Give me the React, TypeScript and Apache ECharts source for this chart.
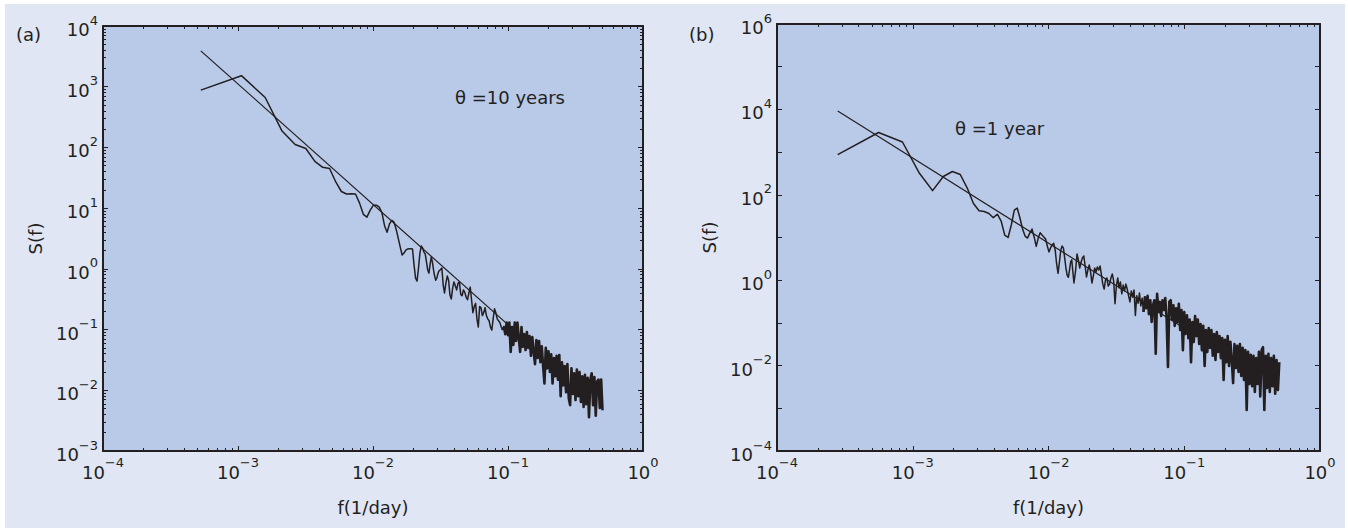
import React, { useEffect, useRef } from 'react';
import * as echarts from 'echarts';

// ---------------- data ----------------
// panel (a), theta = 10 years : low-frequency harmonics (df ~ 5.3e-4 1/day)
const FREQ_A_LOW = [
  0.00053, 0.00106, 0.00159, 0.00212, 0.00265, 0.00318, 0.00371, 0.00424, 0.00477, 0.0053,
  0.00583, 0.00636, 0.00689, 0.00742, 0.00795, 0.00848, 0.00901, 0.00954, 0.01007, 0.0106,
  0.01113, 0.01166, 0.01219, 0.01272, 0.01325, 0.01378, 0.01431, 0.01484, 0.01537, 0.0159,
  0.01643, 0.01696, 0.01749, 0.01802, 0.01855, 0.01908, 0.01961, 0.02014, 0.02067, 0.0212,
  0.02173, 0.02226, 0.02279, 0.02332, 0.02385, 0.02438, 0.02491, 0.02544, 0.02597, 0.0265,
  0.02703, 0.02756, 0.02809, 0.02862, 0.02915, 0.02968, 0.03021, 0.03074, 0.03127,
];
const S_A_LOW = [
  880, 1520, 664, 186, 112, 96, 59, 47, 45, 27,
  18.8, 17.1, 17.2, 17.1, 12.1, 7.9, 7.1, 9.3, 11.2, 11.2,
  10.4, 8.3, 5.1, 4.0, 5.5, 6.3, 5.9, 4.5, 3.2, 2.3,
  1.69, 1.82, 2.04, 2.12, 2.15, 2.15, 2.12, 1.16, 0.7, 0.63,
  1.03, 1.82, 2.38, 2.2, 1.89, 1.75, 1.29, 0.95, 0.85, 1.2,
  1.56, 1.29, 0.95, 0.76, 0.65, 0.7, 0.82, 0.92, 0.95,
];

// panel (b), theta = 1 year : low-frequency harmonics (df ~ 2.8e-4 1/day)
const FREQ_B_LOW = [
  0.00028, 0.00056, 0.00084, 0.00112, 0.0014, 0.00168, 0.00196, 0.00224, 0.00252, 0.0028,
  0.00308, 0.00336, 0.00364, 0.00392, 0.0042, 0.00448, 0.00476, 0.00504, 0.00532, 0.0056,
  0.00588, 0.00616, 0.00644, 0.00672, 0.007, 0.00728, 0.00756, 0.00784, 0.00812, 0.0084,
  0.00868, 0.00896, 0.00924, 0.00952, 0.0098, 0.01008, 0.01036, 0.01064, 0.01092, 0.0112,
  0.01148, 0.01176, 0.01204, 0.01232, 0.0126, 0.01288, 0.01316, 0.01344, 0.01372, 0.014,
  0.01428, 0.01456, 0.01484, 0.01512, 0.0154,
];
const S_B_LOW = [
  870, 2880, 1725, 319, 125, 268, 351, 299, 144, 62.5,
  42.4, 40.6, 36.5, 29.1, 35.1, 24.3, 11.4, 10, 19.6, 44,
  49, 28.6, 15.8, 10.8, 9.7, 12.7, 15.8, 10.3, 6.2, 9.7,
  12.9, 11.4, 10.3, 9.2, 6.3, 4.6, 5.7, 6.7, 7.3, 5.1,
  2.4, 1.45, 2.7, 5.1, 6.3, 5.7, 3.3, 1.93, 1.32, 1.17,
  1.73, 2.7, 3.0, 1.56, 0.86,
];

// high-frequency (dense) part, frequencies shared by both panels
const FREQ_DENSE = [
  0.01585, 0.01622, 0.0166, 0.01698, 0.01738, 0.01778, 0.0182, 0.01862, 0.01905, 0.0195,
  0.01995, 0.02042, 0.02089, 0.02138, 0.02188, 0.02239, 0.02291, 0.02344, 0.02399, 0.02455,
  0.02512, 0.0257, 0.0263, 0.02692, 0.02754, 0.02818, 0.02884, 0.02951, 0.0302, 0.0309,
  0.03162, 0.03236, 0.03311, 0.03388, 0.03467, 0.03548, 0.03631, 0.03715, 0.03802, 0.0389,
  0.03981, 0.04074, 0.04169, 0.04266, 0.04365, 0.04467, 0.04571, 0.04677, 0.04786, 0.04898,
  0.05012, 0.05129, 0.05248, 0.0537, 0.05495, 0.05623, 0.05754, 0.05888, 0.06026, 0.06166,
  0.0631, 0.06457, 0.06607, 0.06761, 0.06918, 0.07079, 0.07244, 0.07413, 0.07586, 0.07762,
  0.07943, 0.08128, 0.08318, 0.08511, 0.0871, 0.08913, 0.0912, 0.09333, 0.0955, 0.09772,
  0.1, 0.1023, 0.1047, 0.1072, 0.1096, 0.1122, 0.1148, 0.1175, 0.1202, 0.123,
  0.1259, 0.1288, 0.1318, 0.1349, 0.138, 0.1413, 0.1445, 0.1479, 0.1514, 0.1549,
  0.1585, 0.1622, 0.166, 0.1698, 0.1738, 0.1778, 0.182, 0.1862, 0.1905, 0.195,
  0.1995, 0.2042, 0.2089, 0.2138, 0.2188, 0.2239, 0.2291, 0.2344, 0.2399, 0.2455,
  0.2512, 0.257, 0.263, 0.2692, 0.2754, 0.2818, 0.2884, 0.2951, 0.302, 0.309,
  0.3162, 0.3236, 0.3311, 0.3388, 0.3467, 0.3548, 0.3631, 0.3715, 0.3802, 0.389,
  0.3981, 0.4074, 0.4169, 0.4266, 0.4365, 0.4467, 0.4571, 0.4677, 0.4786, 0.4898,
  0.5012,
];
// panel (a) dense values, on the last 121 dense frequencies
const S_A_DENSE = [
  0.95, 1.03, 0.54, 0.4, 0.58, 0.76, 0.65, 0.37, 0.32, 0.48,
  0.61, 0.52, 0.45, 0.58, 0.61, 0.38, 0.36, 0.45, 0.41, 0.34,
  0.31, 0.4, 0.5, 0.31, 0.19, 0.24, 0.27, 0.15, 0.11, 0.24,
  0.23, 0.17, 0.19, 0.23, 0.17, 0.15, 0.14, 0.11, 0.098, 0.15,
  0.22, 0.19, 0.15, 0.14, 0.13, 0.11, 0.098, 0.11, 0.084, 0.13,
  0.081, 0.13, 0.043, 0.11, 0.056, 0.13, 0.065, 0.13, 0.072, 0.043,
  0.11, 0.052, 0.084, 0.046, 0.091, 0.05, 0.078, 0.037, 0.075, 0.043,
  0.027, 0.067, 0.034, 0.065, 0.029, 0.053, 0.025, 0.013, 0.05, 0.023,
  0.044, 0.02, 0.039, 0.013, 0.034, 0.017, 0.037, 0.015, 0.038, 0.008,
  0.029, 0.012, 0.025, 0.0093, 0.027, 0.0074, 0.0057, 0.023, 0.0087, 0.019,
  0.0069, 0.022, 0.008, 0.02, 0.0064, 0.017, 0.0053, 0.018, 0.0059, 0.016,
  0.0036, 0.015, 0.019, 0.0057, 0.0165, 0.0038, 0.014, 0.015, 0.0051, 0.015, 0.0047,
];
// panel (b) dense values, on all 151 dense frequencies
const S_B_DENSE = [
  1.73, 4.1, 2.97, 1.93, 2.67, 3.31, 3.69, 2.15, 1.19, 1.73,
  2.27, 1.56, 0.86, 1.25, 1.93, 1.56, 2.04, 1.73, 2.15, 1.32,
  0.81, 0.62, 1.01, 1.13, 0.73, 0.81, 1.13, 1.4, 0.96, 0.28,
  0.73, 1.13, 0.66, 0.91, 0.48, 0.77, 0.56, 0.81, 0.62, 0.43,
  0.31, 0.56, 0.4, 0.59, 0.15, 0.43, 0.29, 0.5, 0.25, 0.38,
  0.18, 0.4, 0.22, 0.43, 0.16, 0.34, 0.105, 0.26, 0.34, 0.019,
  0.48, 0.18, 0.31, 0.145, 0.34, 0.2, 0.38, 0.13, 0.0093, 0.31,
  0.34, 0.12, 0.26, 0.085, 0.22, 0.105, 0.28, 0.068, 0.2, 0.023,
  0.18, 0.055, 0.15, 0.044, 0.12, 0.012, 0.105, 0.036, 0.145, 0.049,
  0.12, 0.032, 0.094, 0.023, 0.085, 0.0098, 0.068, 0.021, 0.076, 0.026,
  0.068, 0.017, 0.055, 0.0135, 0.061, 0.021, 0.049, 0.015, 0.044, 0.0046,
  0.04, 0.012, 0.049, 0.0098, 0.036, 0.0135, 0.0039, 0.032, 0.0088, 0.029,
  0.0071, 0.032, 0.0057, 0.026, 0.0046, 0.023, 0.00091, 0.021, 0.0037, 0.018,
  0.0033, 0.017, 0.0024, 0.015, 0.0037, 0.021, 0.0019, 0.023, 0.027, 0.00091,
  0.017, 0.003, 0.019, 0.0024, 0.015, 0.0033, 0.017, 0.0022, 0.0135, 0.0027, 0.012,
];

// fitted power laws (end points)
const FIT_A_F = [0.00053, 0.107];
const FIT_A_S = [3900, 0.105];
const FIT_B_F = [0.00028, 0.1];
const FIT_B_S = [9200, 0.075];

// axes
const X_TICK_EXP = [-4, -3, -2, -1, 0];
const A_Y_TICK_EXP = [-3, -2, -1, 0, 1, 2, 3, 4];
const B_Y_TICK_EXP = [-4, -3, -2, -1, 0, 1, 2, 3, 4, 5, 6];
const B_Y_LABEL_EXP = [-4, -2, 0, 2, 4, 6];
const MINOR_STEPS = [2, 3, 4, 5, 6, 7, 8, 9];

// frequency above which the spectrum is a dense band (drawn heavier)
const BAND_FROM_A = 0.09;
const BAND_FROM_B = 0.05;

const TEXT_A = '(a)';
const TEXT_B = '(b)';
const NOTE_A = '\u03B8 =10 years';
const NOTE_B = '\u03B8 =1 year';
const X_NAME = 'f(1/day)';
const Y_NAME = 'S(f)';

// ---------------- styling ----------------
const FONT = 'DejaVu Sans, Liberation Sans, Arial, sans-serif';
const INK = '#231F20';
const PLOT_BG = '#B9C9E8';
const PAGE_BG = '#E0E6F3';
const TXT = 18;
const BASE_SIZE = 18;
const EXP_SIZE = 13;

const GRID_A = { left: 103, top: 26, width: 540, height: 425 };
const GRID_B = { left: 777, top: 24, width: 543, height: 427 };

const pow10 = (e: number) => Math.pow(10, e);
const decades = (exps: number[]) => exps.map(pow10);
const minors = (exps: number[]) => {
  const out: number[] = [];
  for (let i = 0; i < exps.length - 1; i++) {
    for (const m of MINOR_STEPS) out.push(m * pow10(exps[i]));
  }
  return out;
};

const expLabel = (v: number) => {
  const e = Math.round(Math.log10(v));
  const s = e < 0 ? '\u2212' + String(-e) : String(e);
  return '{b|10}{e|' + s + '}';
};

const RICH = {
  b: { fontSize: BASE_SIZE, fontFamily: FONT, color: INK, lineHeight: 25, verticalAlign: 'bottom' },
  e: { fontSize: EXP_SIZE, fontFamily: FONT, color: INK, lineHeight: 14, verticalAlign: 'top' },
};

function logAxis(opts: any) {
  const {
    grid, position, min, max, ticks, labels, useCustomLabels = true, tickLen = 5, line = true,
    name, nameGap, nameRotate, show = true,
  } = opts;
  return {
    type: 'log',
    logBase: 10,
    gridIndex: grid,
    position,
    min,
    max,
    show,
    axisLine: { show: line, onZero: false, lineStyle: { color: INK, width: 2 } },
    axisTick: {
      show: !!ticks,
      inside: true,
      length: tickLen,
      customValues: ticks || undefined,
      lineStyle: { color: INK, width: 1 },
    },
    axisLabel: {
      show: !!labels,
      customValues: labels && useCustomLabels ? labels : undefined,
      formatter: expLabel,
      rich: RICH,
      fontSize: BASE_SIZE,
      fontFamily: FONT,
      margin: 5,
      color: INK,
    },
    splitLine: { show: false },
    minorTick: { show: false },
    name: name || '',
    nameLocation: 'middle',
    nameGap: nameGap || 0,
    nameRotate,
    nameTextStyle: { fontFamily: FONT, fontSize: TXT, color: INK },
  };
}

export default function App() {
  const ref = useRef<HTMLDivElement>(null);

  useEffect(() => {
    if (!ref.current) return;
    const chart = echarts.init(ref.current, undefined, { renderer: 'svg' });

    const aFreq = FREQ_A_LOW.concat(FREQ_DENSE.slice(FREQ_DENSE.length - S_A_DENSE.length));
    const aVal = S_A_LOW.concat(S_A_DENSE);
    const specA = aFreq.map((f, i) => [f, aVal[i]]);
    const bFreq = FREQ_B_LOW.concat(FREQ_DENSE);
    const bVal = S_B_LOW.concat(S_B_DENSE);
    const specB = bFreq.map((f, i) => [f, bVal[i]]);
    const fitA = FIT_A_F.map((f, i) => [f, FIT_A_S[i]]);
    const fitB = FIT_B_F.map((f, i) => [f, FIT_B_S[i]]);

    const split = (data: number[][], from: number) => {
      const k = data.findIndex((p) => p[0] >= from);
      return [data.slice(0, k + 1), data.slice(k)];
    };
    const [specALo, specAHi] = split(specA, BAND_FROM_A);
    const [specBLo, specBHi] = split(specB, BAND_FROM_B);

    const xMaj = decades(X_TICK_EXP);
    const xMin = minors(X_TICK_EXP);
    const aYMaj = decades(A_Y_TICK_EXP);
    const aYMin = minors(A_Y_TICK_EXP);
    const bYMaj = decades(B_Y_TICK_EXP);
    const bYLab = decades(B_Y_LABEL_EXP);

    const xLo = pow10(X_TICK_EXP[0]);
    const xHi = pow10(X_TICK_EXP[X_TICK_EXP.length - 1]);
    const aLo = pow10(A_Y_TICK_EXP[0]);
    const aHi = pow10(A_Y_TICK_EXP[A_Y_TICK_EXP.length - 1]);
    const bLo = pow10(B_Y_TICK_EXP[0]);
    const bHi = pow10(B_Y_TICK_EXP[B_Y_TICK_EXP.length - 1]);

    const lineSeries = (data: number[][], xi: number, yi: number, w: number) => ({
      type: 'line',
      xAxisIndex: xi,
      yAxisIndex: yi,
      data,
      showSymbol: false,
      symbol: 'none',
      clip: true,
      lineStyle: { color: INK, width: w, join: 'round' },
      z: 3,
    });

    chart.setOption({
      animation: false,
      backgroundColor: 'transparent',
      textStyle: { fontFamily: FONT, color: INK },
      grid: [
        { ...GRID_A, show: true, backgroundColor: PLOT_BG, borderWidth: 0 },
        { ...GRID_A, show: false },
        { ...GRID_B, show: true, backgroundColor: PLOT_BG, borderWidth: 0 },
        { ...GRID_B, show: false },
      ],
      xAxis: [
        logAxis({ grid: 0, position: 'bottom', min: xLo, max: xHi, ticks: xMaj, labels: xMaj, useCustomLabels: false, name: X_NAME, nameGap: 47 }),
        logAxis({ grid: 0, position: 'top', min: xLo, max: xHi, ticks: xMaj }),
        logAxis({ grid: 1, position: 'bottom', min: xLo, max: xHi, ticks: xMin, tickLen: 3, line: false }),
        logAxis({ grid: 1, position: 'top', min: xLo, max: xHi, ticks: xMin, tickLen: 3, line: false }),
        logAxis({ grid: 2, position: 'bottom', min: xLo, max: xHi, ticks: xMaj, labels: xMaj, useCustomLabels: false, name: X_NAME, nameGap: 47 }),
        logAxis({ grid: 2, position: 'top', min: xLo, max: xHi, ticks: xMaj }),
        logAxis({ grid: 3, position: 'bottom', min: xLo, max: xHi, ticks: xMin, tickLen: 3, line: false }),
        logAxis({ grid: 3, position: 'top', min: xLo, max: xHi, ticks: xMin, tickLen: 3, line: false }),
      ],
      yAxis: [
        logAxis({ grid: 0, position: 'left', min: aLo, max: aHi, ticks: aYMaj, labels: aYMaj, name: Y_NAME, nameGap: 59, nameRotate: 90 }),
        logAxis({ grid: 0, position: 'right', min: aLo, max: aHi, ticks: aYMaj }),
        logAxis({ grid: 1, position: 'left', min: aLo, max: aHi, ticks: aYMin, tickLen: 3, line: false }),
        logAxis({ grid: 1, position: 'right', min: aLo, max: aHi, ticks: aYMin, tickLen: 3, line: false }),
        logAxis({ grid: 2, position: 'left', min: bLo, max: bHi, ticks: bYMaj, labels: bYLab, name: Y_NAME, nameGap: 59, nameRotate: 90 }),
        logAxis({ grid: 2, position: 'right', min: bLo, max: bHi, ticks: bYMaj }),
        logAxis({ grid: 3, position: 'left', min: bLo, max: bHi, show: false }),
        logAxis({ grid: 3, position: 'right', min: bLo, max: bHi, show: false }),
      ],
      series: [
        lineSeries(specALo, 0, 0, 1.5),
        lineSeries(specAHi, 0, 0, 2.6),
        lineSeries(fitA, 0, 0, 1.2),
        lineSeries(specBLo, 4, 4, 1.5),
        lineSeries(specBHi, 4, 4, 2.6),
        lineSeries(fitB, 4, 4, 1.2),
      ],
      graphic: [
        { type: 'text', x: 16, y: 34, style: { text: TEXT_A, font: `${TXT}px ${FONT}`, fill: INK, verticalAlign: 'middle', align: 'left' } },
        { type: 'text', x: 689, y: 34, style: { text: TEXT_B, font: `${TXT}px ${FONT}`, fill: INK, verticalAlign: 'middle', align: 'left' } },
        { type: 'text', x: 455, y: 97, style: { text: NOTE_A, font: `${TXT}px ${FONT}`, fill: INK, verticalAlign: 'middle', align: 'left' } },
        { type: 'text', x: 955, y: 128, style: { text: NOTE_B, font: `${TXT}px ${FONT}`, fill: INK, verticalAlign: 'middle', align: 'left' } },
      ],
    });

    return () => chart.dispose();
  }, []);

  return (
    <div style={{ position: 'fixed', left: 0, top: 0, width: 1348, height: 528, background: '#ffffff', overflow: 'hidden' }}>
      <div style={{ position: 'absolute', left: 5, top: 4, width: 1340, height: 524, background: PAGE_BG }} />
      <div ref={ref} style={{ position: 'absolute', left: 0, top: 0, width: 1348, height: 528 }} />
    </div>
  );
}
